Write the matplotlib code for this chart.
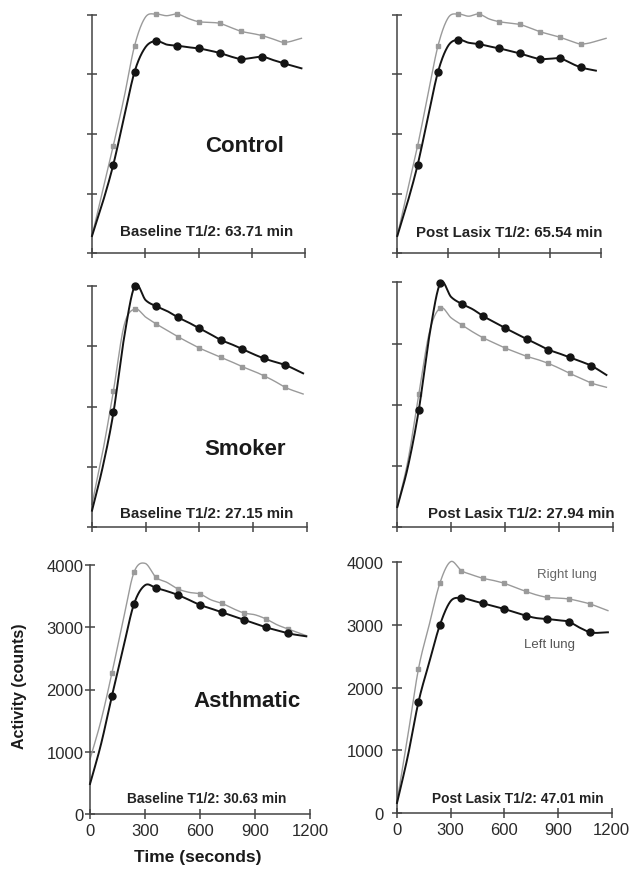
import numpy as np
import matplotlib
matplotlib.use("Agg")
import matplotlib.pyplot as plt

plt.rcParams['font.family'] = ['Liberation Sans', 'DejaVu Sans']

# ---------------- data ----------------
t_nodes = [0, 60, 120, 180, 240, 300, 360, 420, 480, 540, 600, 660, 720, 780, 840, 900, 960, 1020, 1080]
t_marks = [120, 240, 360, 480, 600, 720, 840, 960, 1080]
y_ticks = [0, 1000, 2000, 3000, 4000]
x_ticks = [0, 300, 600, 900, 1200]

# Control
ctrl_base_right = [290, 1045, 1805, 2600, 3481, 3955, 4011, 3983, 4011, 3939, 3883, 3872, 3855, 3788, 3721, 3687, 3648, 3592, 3537]
ctrl_base_right_end = (1180, 3604)
ctrl_base_left = [290, 850, 1486, 2270, 3045, 3450, 3560, 3500, 3481, 3455, 3436, 3400, 3358, 3300, 3257, 3275, 3296, 3240, 3185]
ctrl_base_left_end = (1180, 3101)
ctrl_post_right = [290, 1045, 1805, 2650, 3481, 3950, 4011, 3975, 4011, 3930, 3883, 3860, 3838, 3780, 3715, 3670, 3620, 3560, 3509]
ctrl_post_right_end = (1230, 3604)
ctrl_post_left = [290, 850, 1486, 2270, 3045, 3480, 3581, 3530, 3509, 3470, 3436, 3395, 3352, 3300, 3257, 3262, 3268, 3190, 3118]
ctrl_post_left_end = (1170, 3062)

# Smoker
smk_base_right = [380, 1250, 2262, 3350, 3614, 3480, 3365, 3260, 3156, 3060, 2968, 2890, 2814, 2740, 2659, 2590, 2510, 2420, 2317]
smk_base_right_end = (1180, 2207)
smk_base_left = [276, 1000, 1903, 3150, 4000, 3760, 3658, 3580, 3476, 3390, 3294, 3200, 3101, 3030, 2952, 2870, 2797, 2740, 2687]
smk_base_left_end = (1180, 2549)
smk_post_right = [331, 1100, 2177, 3200, 3581, 3420, 3303, 3190, 3091, 3010, 2928, 2860, 2792, 2740, 2677, 2600, 2514, 2435, 2356]
smk_post_right_end = (1165, 2286)
smk_post_left = [331, 1000, 1921, 3150, 3989, 3760, 3646, 3560, 3445, 3350, 3254, 3165, 3075, 2990, 2901, 2840, 2775, 2710, 2639]
smk_post_left_end = (1165, 2487)

# Asthmatic
asth_base_right = [880, 1500, 2270, 3100, 3882, 4027, 3802, 3720, 3615, 3561, 3534, 3440, 3384, 3300, 3229, 3200, 3133, 3040, 2972]
asth_base_right_end = (1180, 2865)
asth_base_left = [482, 1120, 1900, 2650, 3374, 3675, 3631, 3580, 3518, 3440, 3358, 3300, 3240, 3180, 3122, 3060, 2999, 2950, 2902]
asth_base_left_end = (1180, 2854)
asth_post_right = [175, 1220, 2298, 3000, 3670, 4010, 3867, 3800, 3745, 3710, 3665, 3600, 3537, 3480, 3441, 3430, 3415, 3380, 3335]
asth_post_right_end = (1180, 3229)
asth_post_left = [160, 900, 1770, 2400, 3000, 3380, 3431, 3390, 3346, 3300, 3255, 3200, 3149, 3110, 3096, 3075, 3053, 2960, 2883]
asth_post_left_end = (1180, 2883)

group_labels = ["Control", "Smoker", "Asthmatic"]
half_times = [["Baseline T1/2: 63.71 min", "Post Lasix T1/2: 65.54 min"],
              ["Baseline T1/2: 27.15 min", "Post Lasix T1/2: 27.94 min"],
              ["Baseline T1/2: 30.63 min", "Post Lasix T1/2: 47.01 min"]]

# ---------------- helpers ----------------
W, H = 631, 870


def smooth(tn, vn, n=600):
    t = np.asarray(tn, float)
    v = np.asarray(vn, float)
    m = np.zeros_like(v)
    h = np.diff(t)
    d = np.diff(v) / h
    m[0] = d[0]
    m[-1] = d[-1]
    m[1:-1] = (d[:-1] + d[1:]) / 2
    tt = np.linspace(t[0], t[-1], n)
    idx = np.clip(np.searchsorted(t, tt, side='right') - 1, 0, len(t) - 2)
    hh = h[idx]
    s = (tt - t[idx]) / hh
    h00 = 2 * s**3 - 3 * s**2 + 1
    h10 = s**3 - 2 * s**2 + s
    h01 = -2 * s**3 + 3 * s**2
    h11 = s**3 - s**2
    yy = h00 * v[idx] + h10 * hh * m[idx] + h01 * v[idx + 1] + h11 * hh * m[idx + 1]
    return tt, yy


def add_ax(left, right, top, bottom):
    return fig.add_axes([left / W, 1 - bottom / H, (right - left) / W, (bottom - top) / H])


def ftext(x, y, s, **kw):
    fig.text(x / W, 1 - y / H, s, ha='center', va='center', **kw)


fig = plt.figure(figsize=(W / 100, H / 100), dpi=100)

axes_px = [
    [(92, 305, 15.7, 254.3), (397.3, 601, 15.7, 254.3)],
    [(92, 306.7, 286.7, 528.3), (397.3, 612.7, 283.3, 528.3)],
    [(90, 310, 566, 815), (397, 611.5, 563.3, 814)],
]
y_label_pad = [1.5, 6.5]

series = [
    [((ctrl_base_right, ctrl_base_right_end), (ctrl_base_left, ctrl_base_left_end)),
     ((ctrl_post_right, ctrl_post_right_end), (ctrl_post_left, ctrl_post_left_end))],
    [((smk_base_right, smk_base_right_end), (smk_base_left, smk_base_left_end)),
     ((smk_post_right, smk_post_right_end), (smk_post_left, smk_post_left_end))],
    [((asth_base_right, asth_base_right_end), (asth_base_left, asth_base_left_end)),
     ((asth_post_right, asth_post_right_end), (asth_post_left, asth_post_left_end))],
]

axis_col = '#444444'
grey = '#9a9a9a'
black = '#141414'

for r in range(3):
    for c in range(2):
        ax = add_ax(*axes_px[r][c])
        (rv, rend), (lv, lend) = series[r][c]
        for vals, end, col, lw, mk, ms, z in [(rv, rend, grey, 1.0, 's', 2.8, 2),
                                              (lv, lend, black, 1.4, 'o', 5.0, 3)]:
            tn = list(t_nodes) + [end[0]]
            vn = list(vals) + [end[1]]
            tt, yy = smooth(tn, vn)
            ax.plot(tt, yy, color=col, lw=lw, clip_on=False, zorder=z)
            mv = [vals[t_nodes.index(t)] for t in t_marks]
            ax.plot(t_marks, mv, ls='none', marker=mk, ms=ms, color=col,
                    mec=col, clip_on=False, zorder=z + 0.5)
        ax.set_xlim(0, 1200)
        ax.set_ylim(0, 4000)
        for sp in ['top', 'right']:
            ax.spines[sp].set_visible(False)
        for sp in ['left', 'bottom']:
            ax.spines[sp].set_color(axis_col)
            ax.spines[sp].set_linewidth(1.1)
        ax.set_xticks(x_ticks)
        ax.set_yticks(y_ticks)
        ax.tick_params(direction='inout', length=6.5, width=1.1, color=axis_col,
                       labelsize=12, labelcolor='#2a2a2a')
        ax.tick_params(axis='y', pad=y_label_pad[c])
        ax.tick_params(axis='x', pad=3)
        ax.patch.set_alpha(0)
        if r < 2:
            ax.set_xticklabels([])
            ax.set_yticklabels([])
        else:
            ax.set_xticklabels([str(v) for v in x_ticks])
            ax.set_yticklabels([str(v) for v in y_ticks])

# group labels
ftext(245, 146, group_labels[0], fontsize=16, fontweight='bold', color='#1a1a1a')
ftext(245, 450, group_labels[1], fontsize=16, fontweight='bold', color='#1a1a1a')
ftext(247, 702, group_labels[2], fontsize=16, fontweight='bold', color='#1a1a1a')

# half-time annotations
ftext(207, 232, half_times[0][0], fontsize=10.8, fontweight='bold', color='#222222')
ftext(509, 233, half_times[0][1], fontsize=10.8, fontweight='bold', color='#222222')
ftext(207, 514, half_times[1][0], fontsize=10.8, fontweight='bold', color='#222222')
ftext(521, 514, half_times[1][1], fontsize=10.8, fontweight='bold', color='#222222')
ftext(207, 799, half_times[2][0], fontsize=9.9, fontweight='bold', color='#222222')
ftext(518, 799, half_times[2][1], fontsize=9.9, fontweight='bold', color='#222222')

# legend-like labels
ftext(567, 575, "Right lung", fontsize=9.5, color='#666666')
ftext(550, 645, "Left lung", fontsize=9.5, color='#555555')

# axis titles
ftext(20, 686, "Activity (counts)", fontsize=11.5, fontweight='bold', rotation=90, color='#1a1a1a')
ftext(198, 858, "Time (seconds)", fontsize=12.5, fontweight='bold', color='#1a1a1a')

fig.savefig('out.png', dpi=100)
